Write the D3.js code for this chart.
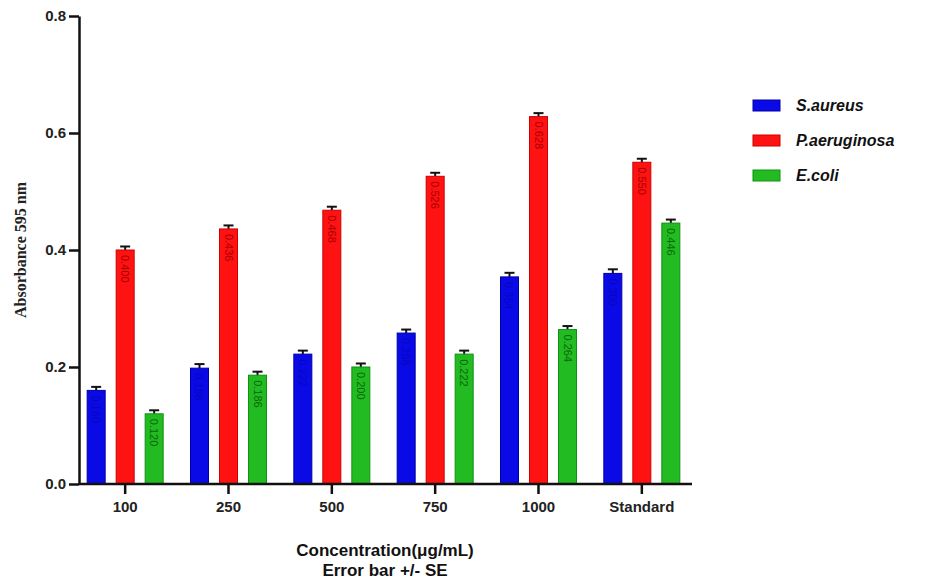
<!DOCTYPE html>
<html>
<head>
<meta charset="utf-8">
<script src="https://cdn.jsdelivr.net/npm/d3@7"></script>
<style>
  html, body { margin: 0; padding: 0; background: #fff; }
  svg { display: block; }
</style>
</head>
<body>
<svg id="chart" width="932" height="583"></svg>
<script>
// Concentrations tested and the three organisms
const categories = ["100", "250", "500", "750", "1000", "Standard"];
const seriesNames = ["S.aureus", "P.aeruginosa", "E.coli"];

// Mean absorbance at 595 nm per organism
const sAureus     = [0.160, 0.198, 0.222, 0.258, 0.354, 0.360];
const pAeruginosa = [0.400, 0.436, 0.468, 0.526, 0.628, 0.550];
const eColi       = [0.120, 0.186, 0.200, 0.222, 0.264, 0.446];

// Standard error per bar
const seAureus      = [0.006, 0.007, 0.006, 0.006, 0.007, 0.007];
const seAeruginosa  = [0.006, 0.006, 0.006, 0.006, 0.006, 0.006];
const seColi        = [0.006, 0.006, 0.006, 0.006, 0.006, 0.006];

const yTicks = [0, 0.2, 0.4, 0.6, 0.8];

const fills   = ["#0a0ae6", "#ff1212", "#22bb22"];
const strokes = ["#0000a8", "#cc0000", "#119011"];
const labelColors = ["#0606c0", "#a80000", "#0b6a0b"];

const series = [
  { name: seriesNames[0], values: sAureus,     se: seAureus },
  { name: seriesNames[1], values: pAeruginosa, se: seAeruginosa },
  { name: seriesNames[2], values: eColi,       se: seColi }
];

const svg = d3.select("#chart");

const groupWidth = 77;
const x0 = d3.scaleBand().domain(categories).range([73.5, 693.5]);
const x1 = d3.scaleBand().domain(seriesNames).range([0, groupWidth]).paddingInner(0.345);
const groupOffset = (x0.bandwidth() - groupWidth) / 2;
const y = d3.scaleLinear().domain([0, 0.8]).range([484, 16]);

const axisX = 79, axisRight = 692;

// Bars with value labels and error bars
const groups = svg.append("g").selectAll("g")
  .data(categories)
  .join("g")
  .attr("transform", d => `translate(${x0(d) + groupOffset},0)`);

series.forEach((s, si) => {
  groups.each(function(cat, ci) {
    const g = d3.select(this);
    const v = s.values[ci];
    const bx = x1(s.name);
    const bw = x1.bandwidth();
    const cx = bx + bw / 2;

    // upper error bar, drawn behind the bar
    const top = y(v + s.se[ci]);
    g.append("line")
      .attr("x1", cx).attr("x2", cx)
      .attr("y1", y(v)).attr("y2", top)
      .attr("stroke", "#111").attr("stroke-width", 2);
    g.append("line")
      .attr("x1", cx - 5).attr("x2", cx + 5)
      .attr("y1", top).attr("y2", top)
      .attr("stroke", "#111").attr("stroke-width", 2);

    g.append("rect")
      .attr("x", bx + 0.5)
      .attr("y", y(v))
      .attr("width", bw - 1)
      .attr("height", y(0) - y(v))
      .attr("fill", fills[si])
      .attr("stroke", strokes[si])
      .attr("stroke-width", 1);

    g.append("text")
      .attr("transform", `translate(${cx - 4},${y(v) + 5}) rotate(90)`)
      .attr("font-family", "Liberation Sans, Arial, sans-serif")
      .attr("font-size", 11)
      .attr("fill", labelColors[si])
      .text(d3.format(".3f")(v));
  });
});

// Y axis
const yAxis = d3.axisLeft(y).tickValues(yTicks).tickFormat(d3.format(".1f")).tickSize(10).tickSizeOuter(0);
const gy = svg.append("g").attr("transform", `translate(${axisX},0)`).call(yAxis);
gy.select(".domain").attr("stroke", "#111").attr("stroke-width", 2.5);
gy.selectAll(".tick line").attr("stroke", "#111").attr("stroke-width", 2.5);
gy.selectAll(".tick text")
  .attr("font-family", "Liberation Sans, Arial, sans-serif")
  .attr("font-weight", "bold").attr("font-size", 15).attr("fill", "#222")
  .attr("x", -13);

// X axis
const xAxis = d3.axisBottom(x0).tickSize(10).tickSizeOuter(0);
const gx = svg.append("g").attr("transform", `translate(0,${y(0)})`).call(xAxis);
gx.select(".domain").attr("d", `M${axisX},0H${axisRight}`).attr("stroke", "#111").attr("stroke-width", 2.5);
gx.selectAll(".tick line").attr("stroke", "#111").attr("stroke-width", 2.5);
gx.selectAll(".tick text")
  .attr("font-family", "Liberation Sans, Arial, sans-serif")
  .attr("font-weight", "bold").attr("font-size", 15).attr("fill", "#222")
  .attr("y", 17);

// Axis titles
svg.append("text")
  .attr("transform", "translate(26,250) rotate(-90)")
  .attr("text-anchor", "middle")
  .attr("font-family", "Liberation Serif, Times New Roman, serif")
  .attr("font-weight", "bold").attr("font-size", 16).attr("fill", "#222")
  .text("Absorbance 595 nm");

svg.append("text")
  .attr("x", 385).attr("y", 556)
  .attr("text-anchor", "middle")
  .attr("font-family", "Liberation Sans, Arial, sans-serif")
  .attr("font-weight", "bold").attr("font-size", 17).attr("fill", "#111")
  .text("Concentration(μg/mL)");
svg.append("text")
  .attr("x", 385).attr("y", 576)
  .attr("text-anchor", "middle")
  .attr("font-family", "Liberation Sans, Arial, sans-serif")
  .attr("font-weight", "bold").attr("font-size", 17).attr("fill", "#111")
  .text("Error bar +/- SE");

// Legend
const legend = svg.append("g").attr("transform", "translate(753,100)");
seriesNames.forEach((name, i) => {
  const row = legend.append("g").attr("transform", `translate(0,${i * 35})`);
  row.append("rect").attr("x", 0).attr("y", 0).attr("width", 27).attr("height", 11)
    .attr("fill", fills[i]).attr("stroke", strokes[i]).attr("stroke-width", 1);
  row.append("text").attr("x", 43).attr("y", 11)
    .attr("font-family", "Liberation Sans, Arial, sans-serif")
    .attr("font-weight", "bold").attr("font-style", "italic")
    .attr("font-size", 16).attr("fill", "#111")
    .text(name);
});
</script>
</body>
</html>
